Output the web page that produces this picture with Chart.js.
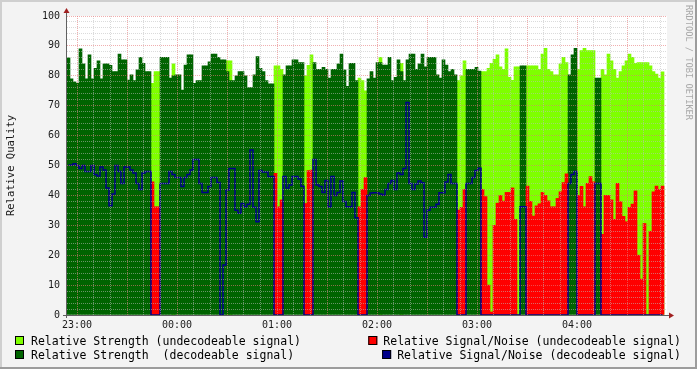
<!DOCTYPE html>
<html>
<head>
<meta charset="utf-8">
<script src="https://cdn.jsdelivr.net/npm/chart.js@4.4.0/dist/chart.umd.min.js"></script>
<style>
  html, body { margin: 0; padding: 0; background: #f3f3f3; }
  canvas { display: block; }
</style>
</head>
<body>
<canvas id="quality" width="697" height="369"></canvas>
<script>
// samples are 1.8 minute bins, the first one starts at 22:54 (minutes relative to 23:00)
const binStart = -6;
const binMinutes = 1.8;

const strength = [
  86, 79, 78, 77.5, 89, 84, 79, 87, 79, 82.5,
  85, 79, 84, 84, 83.5, 81.4, 81.4, 87.3, 85.3, 85.3,
  78.6, 80.3, 78.4, 82, 86.2, 84.2, 81.4, 81.4, 77.5, 81.4,
  81.4, 86.2, 86.2, 86.2, 79.2, 80, 80.3, 80.3, 75.2, 83.6,
  87, 87, 77.5, 78.4, 78.4, 83.3, 83.3, 84.7, 87.3, 87.3,
  86.2, 85.3, 85.3, 81.4, 78.4, 78.4, 80, 81.4, 81.4, 80,
  76.1, 76.1, 80.3, 86.4, 82.5, 81.4, 78.4, 77.3, 77.3, 83.3,
  83.3, 82.2, 80.3, 83.3, 83.3, 85.3, 85.3, 84.4, 84.4, 80,
  83.5, 87, 84.4, 82.2, 82.2, 82.8, 82.2, 79.2, 82.2, 82.2,
  84, 87.3, 82, 76.5, 84.2, 84.2, 78.4, 79.2, 78.4, 75,
  79, 81.4, 79.2, 84.4, 84.4, 83.6, 83.6, 86.2, 78.4, 79.5,
  85.3, 81.4, 78.4, 85.3, 87.3, 87.3, 82.2, 84, 87.3, 83,
  86.2, 86.2, 86.2, 80.3, 79.2, 85.3, 83.6, 81.4, 82.2, 80.3,
  78.4, 80, 85, 82.2, 82.2, 82.2, 82.8, 81.6, 81.4, 81.4,
  82.5, 84.2, 85.5, 87, 83, 82.2, 89, 79.5, 78.5, 83,
  83, 83.3, 83.3, 83.3, 83.3, 83.3, 83.3, 82.2, 87.3, 89.2,
  82.2, 81.4, 80.3, 80.3, 84, 86.2, 84.4, 80.3, 87, 89.2,
  82.2, 88.4, 89.2, 88.4, 88.4, 88.4, 79.2, 79.2, 82.2, 80.3,
  87.3, 85, 82.2, 79.2, 81.4, 83.3, 85, 87.3, 86.2, 84.2,
  84.4, 84.4, 84.4, 84.4, 83.3, 81.4, 80.6, 79.2, 81.3
];

const snr = [
  50.2, 50.2, 50.6, 50, 49, 50, 48, 48, 50, 47,
  46.5, 49.5, 48.5, 42.5, 36.5, 40.5, 50, 48, 44, 49.5,
  49.5, 48.5, 47.5, 44, 42, 47.5, 48, 48, 44.5, 36.2,
  36.2, 44, 44, 44, 48, 47, 46, 46, 43, 46,
  47, 48.5, 52, 52, 44, 41, 41, 43, 46, 46,
  44.3, 0, 16.7, 41.8, 49, 49, 35, 34, 37.3, 36.2,
  37, 55.2, 36, 31.2, 48.3, 47.8, 47.8, 46.3, 46.3, 47.4,
  36.2, 38.5, 46.3, 42.5, 43.5, 46.3, 46.3, 45.5, 43.1, 37.3,
  48.3, 48.5, 52, 43.5, 43, 41, 45, 36.2, 46.3, 40,
  41, 44.8, 38, 36.2, 36.2, 41, 32.5, 36.2, 42, 46,
  40, 40.8, 40.9, 40.9, 40.5, 40.1, 42, 44, 45, 42,
  47.5, 47, 49, 71.1, 44, 42, 43.8, 44.8, 44.2, 26,
  35, 36, 36, 37, 40.9, 40.9, 44.5, 47, 44, 44,
  35.1, 36, 42, 44, 44, 46, 48.3, 49.1, 42, 39.6,
  10, 1, 30, 37.4, 40, 38.1, 41, 41, 42.5, 32,
  0, 36.2, 36.2, 43.1, 38, 33.1, 36.5, 37.2, 41, 40,
  38.2, 36.2, 36.2, 39, 41.2, 44.3, 47.2, 44, 47, 48,
  40, 43, 36.2, 44, 46.3, 44.5, 44, 44, 27, 40,
  40, 38.5, 32, 44, 37.9, 33, 31.2, 36, 37.1, 41.5,
  20, 12, 30.6, 0, 28, 41.2, 43.1, 42, 43.1
];

// alternating run lengths of decodeable / undecodeable bins, starting with decodeable
const decodeableRuns = [28, 3, 38, 3, 7, 3, 15, 3, 30, 3, 5, 13, 2, 14, 3, 6, 2, 21];
// [bin, strength] where an undecodeable sample sticks out above a decodeable bin
const undecodeablePeaks = [[35, 84], [53, 85], [54, 85], [104, 86.2], [111, 84.2]];

const hourLabels = ['23:00', '00:00', '01:00', '02:00', '03:00', '04:00'];
const legendLeft = ['Relative Strength (undecodeable signal)', 'Relative Strength  (decodeable signal)'];
const legendRight = ['Relative Signal/Noise (undecodeable signal)', 'Relative Signal/Noise (decodeable signal)'];

const LIGHT = '#7fff00', DARK = '#006400', RED = '#ff0000', BLUE = '#00008b';
const MONO = '"DejaVu Sans Mono", monospace';
const gridMinor = 'rgba(190,190,190,0.55)';
const gridMajor = 'rgba(230,120,120,0.6)';

const decodeable = [];
decodeableRuns.forEach((n, k) => { for (let j = 0; j < n; j++) decodeable.push(k % 2 === 0); });

const times = strength.map((_, i) => binStart + binMinutes * (i + 0.5));
const points = fn => strength.map((_, i) => ({x: times[i], y: fn(i)}));

const strengthUndec = points(i => decodeable[i] ? null : strength[i]);
undecodeablePeaks.forEach(([i, v]) => { strengthUndec[i].y = v; });
const strengthDec = points(i => decodeable[i] ? strength[i] : null);
const snrUndec = points(i => decodeable[i] ? null : snr[i]);
const snrDec = points(i => decodeable[i] ? snr[i] : 0);

const barOpts = {grouped: false, barPercentage: 1, categoryPercentage: 1, borderWidth: 0};

const rrdFrame = {
  id: 'rrdFrame',
  beforeDraw(chart) {
    const c = chart.ctx, a = chart.chartArea;
    c.save();
    c.fillStyle = '#f3f3f3';
    c.fillRect(0, 0, chart.width, chart.height);
    c.fillStyle = '#cfcfcf';
    c.fillRect(0, 0, chart.width, 2);
    c.fillRect(0, 0, 2, chart.height);
    c.fillStyle = '#9c9c9c';
    c.fillRect(0, chart.height - 2, chart.width, 2);
    c.fillRect(chart.width - 2, 0, 2, chart.height);
    c.fillStyle = '#ffffff';
    c.fillRect(a.left, a.top, a.right - a.left, a.bottom - a.top);
    c.restore();
  },
  afterDraw(chart) {
    const c = chart.ctx, a = chart.chartArea;
    c.save();
    // axes
    c.strokeStyle = '#606060';
    c.lineWidth = 1;
    c.beginPath();
    c.moveTo(a.left - 0.5, a.bottom + 3);
    c.lineTo(a.left - 0.5, a.top - 4);
    c.moveTo(a.left - 4, a.bottom + 0.5);
    c.lineTo(a.right + 4, a.bottom + 0.5);
    c.stroke();
    c.fillStyle = '#a02020';
    c.beginPath();
    c.moveTo(a.left - 3.5, a.top - 3);
    c.lineTo(a.left + 2.5, a.top - 3);
    c.lineTo(a.left - 0.5, a.top - 8);
    c.closePath();
    c.fill();
    c.beginPath();
    c.moveTo(a.right + 2, a.bottom - 2.5);
    c.lineTo(a.right + 2, a.bottom + 3.5);
    c.lineTo(a.right + 7, a.bottom + 0.5);
    c.closePath();
    c.fill();

    // legend
    c.font = '11.5px ' + MONO;
    c.textBaseline = 'alphabetic';
    c.fillStyle = '#000';
    const rows = [345, 359];
    const box = (x, y, color) => {
      c.fillStyle = color;
      c.fillRect(x, y - 9, 9, 9);
      c.strokeStyle = '#000';
      c.strokeRect(x + 0.5, y - 8.5, 8, 8);
    };
    [LIGHT, DARK].forEach((col, r) => {
      box(15, rows[r], col);
      c.fillStyle = '#000';
      c.textAlign = 'left';
      c.fillText(legendLeft[r], 31, rows[r]);
    });
    [RED, BLUE].forEach((col, r) => {
      const w = c.measureText(legendRight[r]).width;
      box(681 - w - 15, rows[r], col);
      c.fillStyle = '#000';
      c.textAlign = 'left';
      c.fillText(legendRight[r], 681 - w, rows[r]);
    });

    // watermark
    c.font = '8.7px ' + MONO;
    c.fillStyle = '#a8a8a8';
    c.translate(686, 5);
    c.rotate(Math.PI / 2);
    c.fillText('RRDTOOL / TOBI OETIKER', 0, 0);
    c.restore();
  }
};

new Chart(document.getElementById('quality'), {
  type: 'bar',
  data: {
    datasets: [
      {type: 'line', label: legendRight[1], data: snrDec, borderColor: BLUE, borderWidth: 1.5,
       stepped: 'middle', pointRadius: 0, fill: false},
      Object.assign({label: legendRight[0], data: snrUndec, backgroundColor: RED}, barOpts),
      Object.assign({label: legendLeft[1], data: strengthDec, backgroundColor: DARK}, barOpts),
      Object.assign({label: legendLeft[0], data: strengthUndec, backgroundColor: LIGHT}, barOpts)
    ]
  },
  options: {
    responsive: false,
    animation: false,
    devicePixelRatio: 1,
    events: [],
    layout: {padding: {top: 16, right: 30, left: 0, bottom: 0}},
    plugins: {legend: {display: false}, tooltip: {enabled: false}, title: {display: false}},
    scales: {
      x: {
        type: 'linear',
        offset: false,
        min: binStart,
        max: binStart + 360,
        afterBuildTicks: s => {
          const t = [];
          for (let v = 0; v <= 350; v += 10) t.push({value: v});
          s.ticks = t;
        },
        afterFit: s => { s.height = 54; },
        grid: {z: 1, offset: false, lineWidth: 1, drawTicks: false, borderDash: [1, 1],
               color: ctx => ctx.tick && ctx.tick.value % 30 === 0 ? gridMajor : gridMinor},
        border: {display: false, dash: [1, 1]},
        ticks: {
          autoSkip: false, maxRotation: 0, padding: 4, color: '#1a1a1a',
          font: {family: MONO, size: 10},
          callback: v => v % 60 === 0 ? hourLabels[v / 60] : ''
        }
      },
      y: {
        min: 0,
        max: 100,
        afterBuildTicks: s => {
          const t = [];
          for (let v = 0; v <= 100; v += 2) t.push({value: v});
          s.ticks = t;
        },
        afterFit: s => { s.width = 67; },
        grid: {z: 1, lineWidth: 1, drawTicks: false, borderDash: [1, 1],
               color: ctx => ctx.tick && ctx.tick.value % 10 === 0 ? gridMajor : gridMinor},
        border: {display: false, dash: [1, 1]},
        ticks: {
          autoSkip: false, padding: 7, color: '#1a1a1a',
          font: {family: MONO, size: 10},
          callback: v => v % 10 === 0 ? String(v) : ''
        },
        title: {display: true, text: 'Relative Quality', color: '#1a1a1a',
                font: {family: MONO, size: 10.5}, padding: {top: 5, bottom: 0}}
      }
    }
  },
  plugins: [rrdFrame]
});
</script>
</body>
</html>
